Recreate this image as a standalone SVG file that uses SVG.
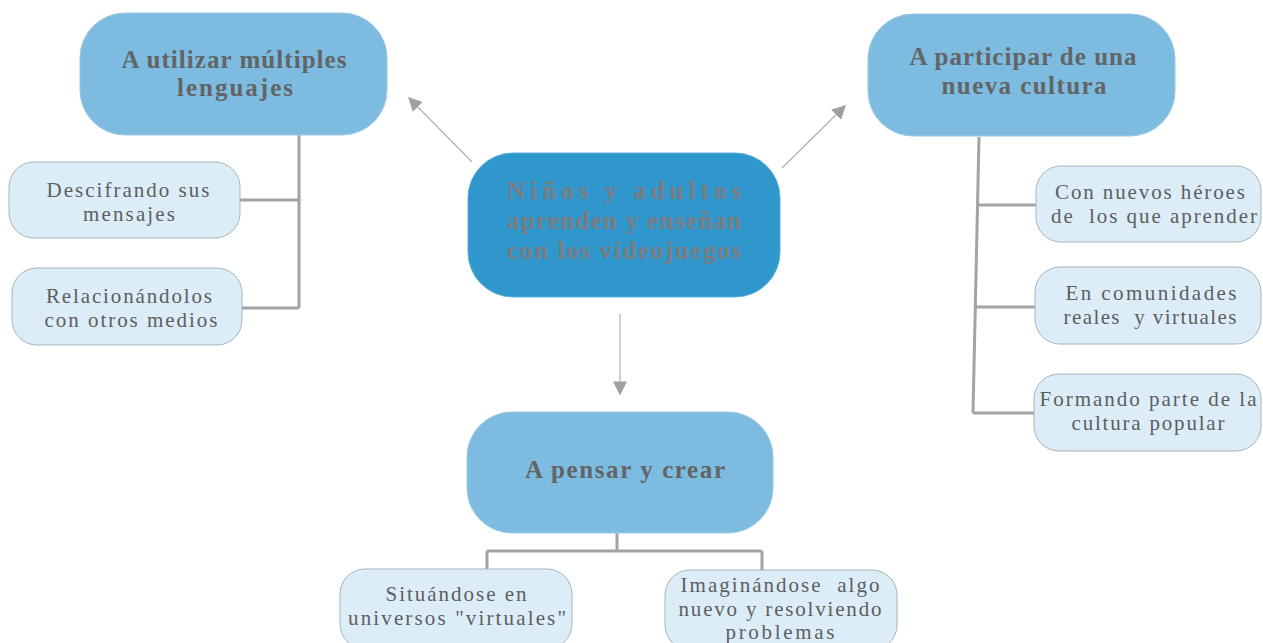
<svg xmlns="http://www.w3.org/2000/svg" width="1263" height="643" viewBox="0 0 1263 643">
<defs>
<style>
.big{fill:#7dbce0;stroke:#9cc8e2;stroke-width:1}
.center{fill:#2f97cc;stroke:#5aaedb;stroke-width:1}
.small{fill:#dcedf8;stroke:#a4b4bd;stroke-width:1}
text{white-space:pre}
.tb{font-family:"Liberation Serif","DejaVu Serif",serif;font-weight:bold;font-size:25px;fill:#626466;text-anchor:middle}
.tc{font-family:"Liberation Serif","DejaVu Serif",serif;font-weight:bold;font-size:25px;fill:#7c7b80;text-anchor:middle}
.ts{font-family:"Liberation Serif","DejaVu Serif",serif;font-size:21px;fill:#5c5e60;text-anchor:middle}
.conn{fill:none;stroke:#a3a3a3;stroke-width:3}
.arr{fill:none;stroke:#b0b0b0;stroke-width:1.2}
</style>
<marker id="ah" viewBox="0 0 10 10" refX="9" refY="5" markerWidth="14" markerHeight="14" markerUnits="userSpaceOnUse" orient="auto">
<path d="M0,0 L10,5 L0,10 Z" fill="#a0a0a0"/>
</marker>
</defs>
<rect width="1263" height="643" fill="#ffffff"/>
<g id="connectors">
<line class="arr" x1="472" y1="162" x2="409" y2="98" marker-end="url(#ah)"/>
<line class="arr" x1="782" y1="168" x2="845" y2="106" marker-end="url(#ah)"/>
<line class="arr" x1="620" y1="314" x2="620" y2="394" marker-end="url(#ah)"/>
<path class="conn" d="M299,135 V308 M240,200 H299 M242,308 H299"/>
<path class="conn" d="M979,137 L973,413 M977,205 H1036 M975,307 H1035 M973,413 H1034"/>
<path class="conn" d="M617,533 V551 M487,551 H762 M487,551 V570 M762,551 V571"/>
</g>
<g id="n-center">
<rect class="center" x="468" y="153" width="312" height="144" rx="45"/>
<text class="tc" x="624" y="199" textLength="234" lengthAdjust="spacing">Niños y adultos</text>
<text class="tc" x="624" y="229" textLength="234" lengthAdjust="spacing">aprenden y enseñan</text>
<text class="tc" x="624" y="259" textLength="234" lengthAdjust="spacing">con los videojuegos</text>
</g>
<g id="n-lenguajes">
<rect class="big" x="80" y="13" width="307" height="122" rx="45"/>
<text class="tb" x="234" y="68" textLength="225" lengthAdjust="spacing">A utilizar múltiples</text>
<text class="tb" x="235" y="96" textLength="116" lengthAdjust="spacing">lenguajes</text>
</g>
<g id="n-descifrando">
<rect class="small" x="9" y="162" width="231" height="76" rx="25"/>
<text class="ts" x="128" y="197" textLength="163" lengthAdjust="spacing">Descifrando sus</text>
<text class="ts" x="129" y="221" textLength="92" lengthAdjust="spacing">mensajes</text>
</g>
<g id="n-relacionando">
<rect class="small" x="12" y="268" width="230" height="77" rx="25"/>
<text class="ts" x="129" y="303" textLength="166" lengthAdjust="spacing">Relacionándolos</text>
<text class="ts" x="131" y="327" textLength="173" lengthAdjust="spacing">con otros medios</text>
</g>
<g id="n-cultura">
<rect class="big" x="868" y="14" width="307" height="122" rx="45"/>
<text class="tb" x="1023" y="65" textLength="227" lengthAdjust="spacing">A participar de una</text>
<text class="tb" x="1024" y="94" textLength="165" lengthAdjust="spacing">nueva cultura</text>
</g>
<g id="n-heroes">
<rect class="small" x="1036" y="166" width="225" height="76" rx="25"/>
<text class="ts" x="1150" y="199" textLength="190" lengthAdjust="spacing">Con nuevos héroes</text>
<text class="ts" x="1154" y="223" textLength="206" lengthAdjust="spacing">de  los que aprender</text>
</g>
<g id="n-comunidades">
<rect class="small" x="1035" y="267" width="226" height="77" rx="25"/>
<text class="ts" x="1151" y="300" textLength="171" lengthAdjust="spacing">En comunidades</text>
<text class="ts" x="1150" y="324" textLength="173" lengthAdjust="spacing">reales  y virtuales</text>
</g>
<g id="n-popular">
<rect class="small" x="1034" y="374" width="227" height="77" rx="25"/>
<text class="ts" x="1148" y="406" textLength="217" lengthAdjust="spacing">Formando parte de la</text>
<text class="ts" x="1148" y="430" textLength="153" lengthAdjust="spacing">cultura popular</text>
</g>
<g id="n-pensar">
<rect class="big" x="467" y="412" width="306" height="121" rx="45"/>
<text class="tb" x="625" y="478" textLength="200" lengthAdjust="spacing">A pensar y crear</text>
</g>
<g id="n-situandose">
<rect class="small" x="340" y="569" width="232" height="80" rx="25"/>
<text class="ts" x="456" y="601" textLength="141" lengthAdjust="spacing">Situándose en</text>
<text class="ts" x="457" y="625" textLength="218" lengthAdjust="spacing">universos "virtuales"</text>
</g>
<g id="n-imaginando">
<rect class="small" x="665" y="570" width="232" height="80" rx="25"/>
<text class="ts" x="780" y="592" textLength="199" lengthAdjust="spacing">Imaginándose  algo</text>
<text class="ts" x="780" y="616" textLength="203" lengthAdjust="spacing">nuevo y resolviendo</text>
<text class="ts" x="780" y="639" textLength="109" lengthAdjust="spacing">problemas</text>
</g>
</svg>
